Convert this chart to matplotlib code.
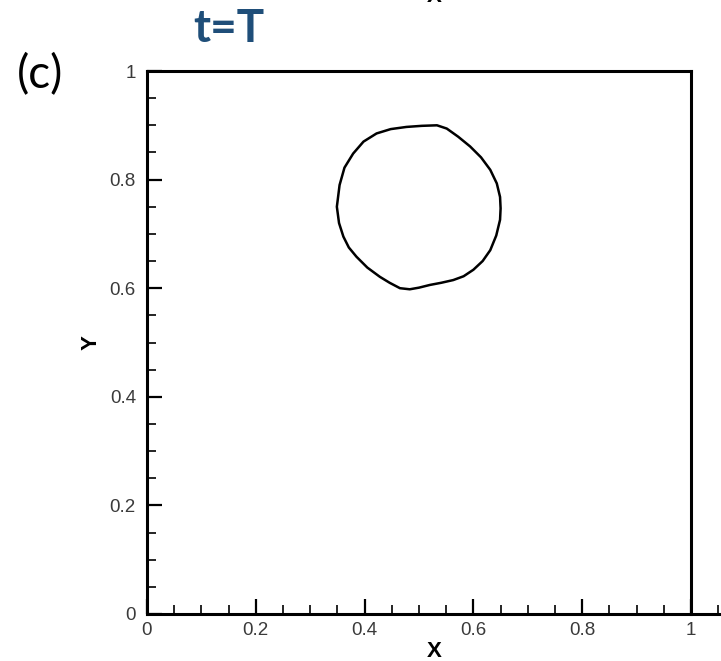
import numpy as np
import matplotlib
matplotlib.use("Agg")
import matplotlib.pyplot as plt
from matplotlib.ticker import MultipleLocator

# interface contour at t=T (x, y in domain units)
bubble_x = [0.349, 0.354, 0.363, 0.379, 0.398, 0.422, 0.448, 0.477, 0.505, 0.533,
            0.551, 0.572, 0.594, 0.614, 0.631, 0.643, 0.649, 0.650, 0.649, 0.642,
            0.631, 0.617, 0.600, 0.582, 0.563, 0.541, 0.520, 0.500, 0.483, 0.465,
            0.446, 0.428, 0.405, 0.385, 0.371, 0.361, 0.353]
bubble_y = [0.750, 0.790, 0.822, 0.848, 0.870, 0.885, 0.893, 0.897, 0.899, 0.900,
            0.894, 0.879, 0.861, 0.841, 0.818, 0.793, 0.768, 0.747, 0.726, 0.697,
            0.670, 0.650, 0.634, 0.622, 0.615, 0.610, 0.606, 0.601, 0.598, 0.600,
            0.610, 0.621, 0.638, 0.658, 0.675, 0.695, 0.720]

tick_vals = [0, 0.2, 0.4, 0.6, 0.8, 1]
tick_labels = ['0', '0.2', '0.4', '0.6', '0.8', '1']

plt.rcParams['font.family'] = ['Liberation Sans', 'DejaVu Sans']

fig = plt.figure(figsize=(7.21, 6.61), dpi=100)
ax = fig.add_axes([147/721, 47/661, 574/721, 543/661])

# closed outline
ax.fill(bubble_x, bubble_y, fill=False, edgecolor='black', lw=1.8, joinstyle='round')

ax.set_xlim(0, 574/544)
ax.set_ylim(0, 1)

# tecplot-like frame: bottom axis runs on, box closed at x=1 and y=1
ax.spines['top'].set_visible(False)
ax.spines['right'].set_visible(False)
for s in ['left', 'bottom']:
    ax.spines[s].set_linewidth(2.2)
ax.plot([0, 1], [1, 1], color='black', lw=2.2, clip_on=False, solid_capstyle='projecting')
ax.plot([1, 1], [0, 1], color='black', lw=2.2, clip_on=False, solid_capstyle='projecting')

ax.set_xticks(tick_vals)
ax.set_xticklabels(tick_labels)
ax.set_yticks(tick_vals)
ax.set_yticklabels(tick_labels)
ax.xaxis.set_minor_locator(MultipleLocator(0.05))
ax.yaxis.set_minor_locator(MultipleLocator(0.05))
ax.tick_params(which='major', direction='in', length=11, width=1.6,
               labelsize=13.5, labelcolor='#3a3a3a', pad=6)
ax.tick_params(which='minor', direction='in', length=6.5, width=1.2)
ax.tick_params(axis='y', pad=8)

ax.set_xlabel('X', fontsize=16, fontweight='bold', labelpad=1)
ax.set_ylabel('Y', fontsize=16, fontweight='bold', labelpad=6)

# panel marks
fig.text(40/721, 1 - 75/661, '(c)', fontsize=33, family=['Lato', 'DejaVu Sans'],
         ha='center', va='center')
fig.text(229/721, 1 - 29/661, 't=T', fontsize=33, fontweight='bold',
         family=['Lato', 'DejaVu Sans'], color='#1f4e79', ha='center', va='center')
# bottom of the previous panel's axis label, cut by the crop
fig.text(434/721, 1 + 3/661, 'X', fontsize=16, fontweight='bold',
         ha='center', va='center')

fig.savefig('out.png', dpi=100)
